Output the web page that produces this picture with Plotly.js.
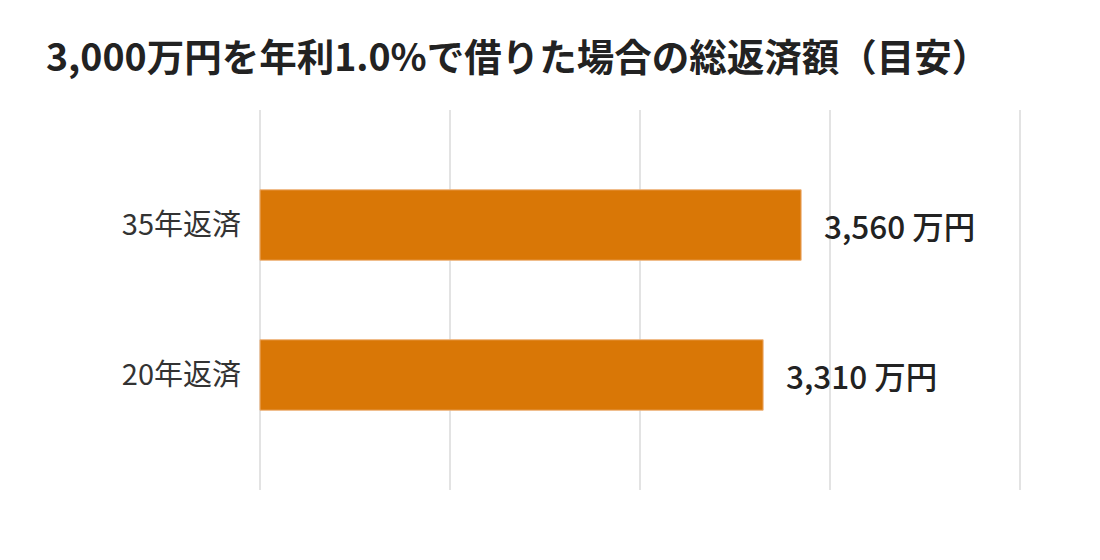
<!DOCTYPE html>
<html>
<head>
<meta charset="utf-8">
<script src="https://cdn.plot.ly/plotly-3.0.1.min.js"></script>
<style>
  html, body { margin: 0; padding: 0; background: #fff; }
  #chart { width: 1100px; height: 560px; }
</style>
</head>
<body>
<div id="chart"></div>
<script>
// data
const categories = ['20年返済', '35年返済'];
const totals = [3310, 3560];   // 万円
const unit = '万円';

const FONT = '"Noto Sans CJK JP", "Noto Sans", sans-serif';
const barColor = '#D97706';

const trace = {
  type: 'bar',
  orientation: 'h',
  x: totals,
  y: categories,
  width: 0.47,
  marker: {
    color: barColor,
    line: { color: '#eeb27a', width: 1 }
  },
  hoverinfo: 'skip'
};

// value labels just past the bar ends
const labels = totals.map((v, i) => ({
  x: v,
  y: categories[i],
  xref: 'x',
  yref: 'y',
  text: v.toLocaleString('en-US') + ' ' + unit,
  showarrow: false,
  xanchor: 'left',
  yanchor: 'middle',
  xshift: 21,
  font: { family: FONT, size: 31.5, color: '#222222', weight: 500 }
}));

const layout = {
  width: 1100,
  height: 560,
  // a few px of slack so the 0 and 5000 grid lines are not clipped at the edges
  margin: { l: 258, r: 78, t: 110, b: 70 },
  paper_bgcolor: '#ffffff',
  plot_bgcolor: '#ffffff',
  font: { family: FONT, color: '#333333' },
  showlegend: false,
  title: {
    text: '3,000万円を年利1.0%で借りた場合の総返済額（目安）',
    font: { family: FONT, size: 37.5, color: '#222222', weight: 'bold' },
    xref: 'container',
    yref: 'container',
    x: 46 / 1100,
    xanchor: 'left',
    y: 1 - 58 / 560,
    yanchor: 'middle'
  },
  xaxis: {
    range: [-13, 5013],
    dtick: 1250,
    tick0: 0,
    showticklabels: false,
    ticks: '',
    showgrid: true,
    gridcolor: '#e3e3e3',
    gridwidth: 2,
    zeroline: false,
    showline: false,
    fixedrange: true
  },
  yaxis: {
    type: 'category',
    range: [-0.767, 1.767],
    ticks: '',
    ticklabelstandoff: 16,
    tickfont: { family: FONT, size: 29, color: '#333333' },
    showgrid: false,
    zeroline: false,
    showline: false,
    fixedrange: true
  },
  annotations: labels
};

Plotly.newPlot('chart', [trace], layout, { displayModeBar: false, staticPlot: true });
</script>
</body>
</html>
